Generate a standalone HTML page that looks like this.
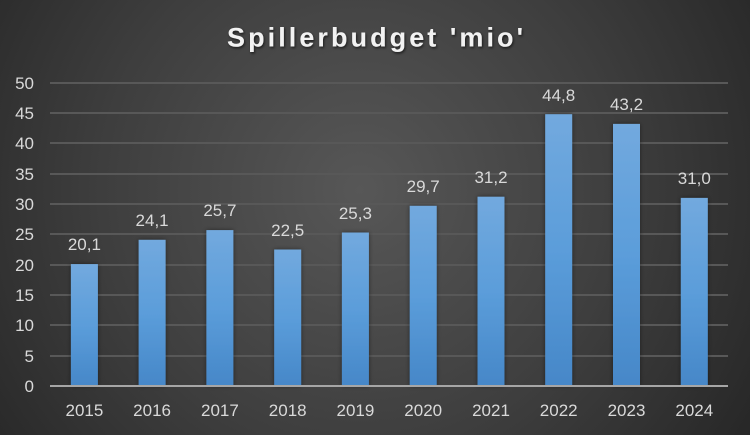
<!DOCTYPE html>
<html>
<head>
<meta charset="utf-8">
<style>
html,body{margin:0;padding:0;width:750px;height:435px;overflow:hidden;background:#2b2b2b;}
svg{display:block;}
text{font-family:"Liberation Sans",Arial,sans-serif;}
</style>
</head>
<body>
<svg width="750" height="435" viewBox="0 0 750 435" xmlns="http://www.w3.org/2000/svg">
<defs>
<radialGradient id="bg" cx="360" cy="190" r="470" gradientUnits="userSpaceOnUse">
<stop offset="0" stop-color="#575757"/>
<stop offset="0.55" stop-color="#3e3e3e"/>
<stop offset="1" stop-color="#262626"/>
</radialGradient>
<linearGradient id="bar" x1="0" y1="0" x2="0" y2="1">
<stop offset="0" stop-color="#72a9de"/>
<stop offset="0.5" stop-color="#5b9dda"/>
<stop offset="1" stop-color="#4687c8"/>
</linearGradient>
<filter id="sh" x="-30%" y="-5%" width="160%" height="110%">
<feDropShadow dx="0" dy="0" stdDeviation="2.5" flood-color="#000" flood-opacity="0.45"/>
</filter>
<filter id="tsh" x="-10%" y="-30%" width="120%" height="160%">
<feDropShadow dx="1" dy="1.5" stdDeviation="1.2" flood-color="#000" flood-opacity="0.6"/>
</filter>
</defs>
<rect width="750" height="435" fill="url(#bg)"/>

<text x="227" y="46.5" textLength="296" lengthAdjust="spacing" font-size="27" font-weight="bold" fill="#f2f2f2" filter="url(#tsh)">Spillerbudget 'mio'</text>

<g stroke="#585858" stroke-width="2">
<line x1="50" y1="83" x2="728" y2="83"/>
<line x1="50" y1="113" x2="728" y2="113"/>
<line x1="50" y1="143" x2="728" y2="143"/>
<line x1="50" y1="174" x2="728" y2="174"/>
<line x1="50" y1="204" x2="728" y2="204"/>
<line x1="50" y1="234" x2="728" y2="234"/>
<line x1="50" y1="265" x2="728" y2="265"/>
<line x1="50" y1="295" x2="728" y2="295"/>
<line x1="50" y1="325" x2="728" y2="325"/>
<line x1="50" y1="356" x2="728" y2="356"/>
</g>

<g font-size="17" fill="#d9d9d9" text-anchor="end">
<text x="34" y="89">50</text>
<text x="34" y="119">45</text>
<text x="34" y="149">40</text>
<text x="34" y="180">35</text>
<text x="34" y="210">30</text>
<text x="34" y="240">25</text>
<text x="34" y="271">20</text>
<text x="34" y="301">15</text>
<text x="34" y="331">10</text>
<text x="34" y="362">5</text>
<text x="34" y="392">0</text>
</g>

<g fill="url(#bar)" filter="url(#sh)">
<rect x="70.9" y="264.1" width="27" height="121.9"/>
<rect x="138.6" y="239.8" width="27" height="146.2"/>
<rect x="206.4" y="230.1" width="27" height="155.9"/>
<rect x="274.2" y="249.5" width="27" height="136.5"/>
<rect x="341.9" y="232.5" width="27" height="153.5"/>
<rect x="409.7" y="205.8" width="27" height="180.2"/>
<rect x="477.5" y="196.7" width="27" height="189.3"/>
<rect x="545.2" y="114.2" width="27" height="271.8"/>
<rect x="613.0" y="123.9" width="27" height="262.1"/>
<rect x="680.8" y="197.9" width="27" height="188.1"/>
</g>

<line x1="50" y1="386" x2="728" y2="386" stroke="#a6a6a6" stroke-width="2"/>

<g font-size="17" fill="#d9d9d9" text-anchor="middle">
<text x="84.4" y="250">20,1</text>
<text x="152.1" y="226">24,1</text>
<text x="219.9" y="216">25,7</text>
<text x="287.7" y="236">22,5</text>
<text x="355.4" y="219">25,3</text>
<text x="423.2" y="192">29,7</text>
<text x="491.0" y="183">31,2</text>
<text x="558.7" y="101">44,8</text>
<text x="626.5" y="110">43,2</text>
<text x="694.3" y="184">31,0</text>
</g>

<g font-size="17" fill="#d9d9d9" text-anchor="middle">
<text x="84.4" y="416">2015</text>
<text x="152.1" y="416">2016</text>
<text x="219.9" y="416">2017</text>
<text x="287.7" y="416">2018</text>
<text x="355.4" y="416">2019</text>
<text x="423.2" y="416">2020</text>
<text x="491.0" y="416">2021</text>
<text x="558.7" y="416">2022</text>
<text x="626.5" y="416">2023</text>
<text x="694.3" y="416">2024</text>
</g>
</svg>
</body>
</html>
